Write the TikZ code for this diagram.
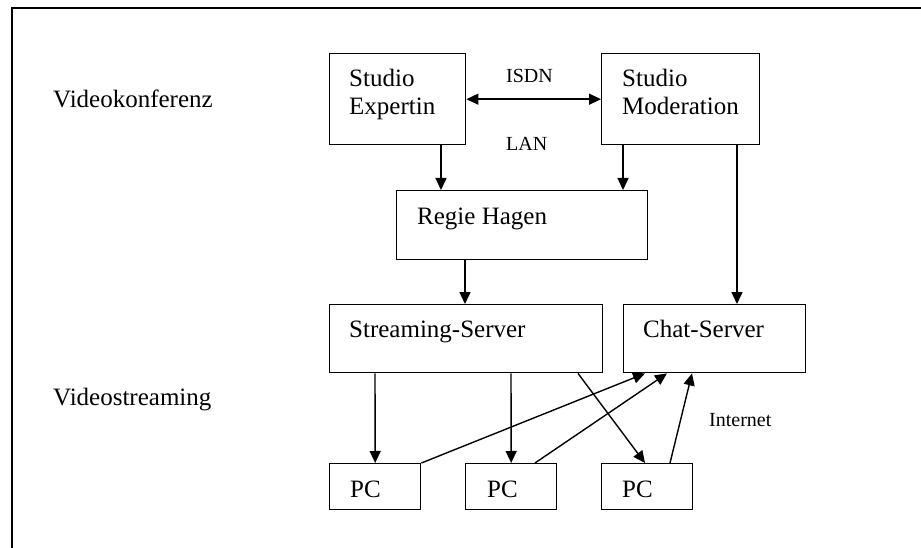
\documentclass[tikz,border=0pt]{standalone}
\usepackage{fontspec}
\setmainfont{Liberation Serif}
\usetikzlibrary{arrows.meta}
\begin{document}
\begin{tikzpicture}[x=1pt,y=-1pt,
  box/.style={draw, line width=1.4pt, anchor=north west, inner sep=0pt},
  txt/.style={anchor=base west, inner sep=0pt, font=\fontsize{25}{30}\selectfont},
  small/.style={anchor=base west, inner sep=0pt, font=\fontsize{20}{24}\selectfont},
  conn/.style={line width=1.4pt, -{Triangle[length=12pt,width=11pt]}},
  dconn/.style={line width=1.4pt, {Triangle[length=12pt,width=11pt]}-{Triangle[length=12pt,width=11pt]}}]
\useasboundingbox (0,0) rectangle (921,548);
\fill[white] (0,0) rectangle (921,548);
% frame
\draw[line width=1.4pt] (12,548) -- (12,8) -- (921,8);
% boxes
\node[box, minimum width=136pt, minimum height=91pt] (exp) at (329,53) {};
\node[box, minimum width=158pt, minimum height=91pt] (mod) at (601,53) {};
\node[box, minimum width=251pt, minimum height=69pt] (reg) at (396,190) {};
\node[box, minimum width=273pt, minimum height=68pt] (str) at (329,304) {};
\node[box, minimum width=182pt, minimum height=68pt] (chat) at (623,304) {};
\node[box, minimum width=91pt, minimum height=46pt] (pc1) at (329,463) {};
\node[box, minimum width=91pt, minimum height=46pt] (pc2) at (465,463) {};
\node[box, minimum width=91pt, minimum height=46pt] (pc3) at (601,463) {};
% texts
\node[txt] (t1) at (53,108) {Videokonferenz};
\node[txt] (t2) at (53,405) {Videostreaming};
\node[txt] (te1) at (349,87) {Studio};
\node[txt] (te2) at (349,115) {Expertin};
\node[txt] (tm1) at (622,87) {Studio};
\node[txt] (tm2) at (622,115) {Moderation};
\node[txt] (tr) at (417,225) {Regie Hagen};
\node[txt] (ts) at (349,337) {Streaming-Server};
\node[txt] (tc) at (643,337) {Chat-Server};
\node[txt] (tp1) at (350,497) {PC};
\node[txt] (tp2) at (487,497) {PC};
\node[txt] (tp3) at (622,497) {PC};
\node[small] (isdn) at (506,83) {ISDN};
\node[small] (lan) at (506,151) {LAN};
\node[small] (inet) at (709,426) {Internet};
% connectors
\draw[dconn] (exp.east) -- (mod.west);
\draw[conn] ([xshift=112pt]exp.south west) -- ([xshift=45pt]reg.north west);
\draw[conn] ([xshift=22pt]mod.south west) -- ([xshift=227pt]reg.north west);
\draw[conn] ([xshift=136pt]mod.south west) -- ([xshift=114pt]chat.north west);
\draw[conn] ([xshift=69pt]reg.south west) -- ([xshift=136pt]str.north west);
\draw[conn] ([xshift=46pt]str.south west) -- (pc1.north);
\draw[conn] ([xshift=182pt]str.south west) -- (pc2.north);
\draw[conn] ([xshift=249pt]str.south west) -- ([xshift=44pt]pc3.north west);
\draw[conn] (pc1.north east) -- ([xshift=22pt]chat.south west);
\draw[conn] ([xshift=70pt]pc2.north west) -- ([xshift=44pt]chat.south west);
\draw[conn] ([xshift=69pt]pc3.north west) -- ([xshift=69pt]chat.south west);
\end{tikzpicture}
\end{document}
